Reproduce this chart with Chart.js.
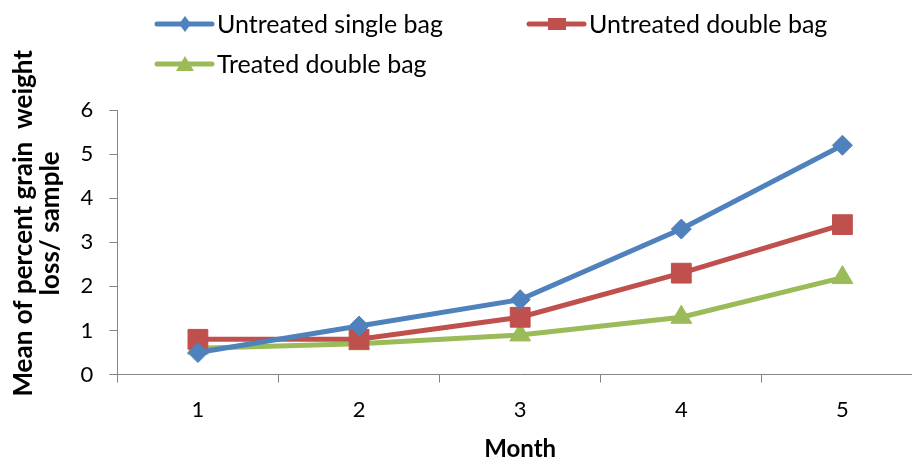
<!DOCTYPE html>
<html>
<head>
<meta charset="utf-8">
<script src="https://cdn.jsdelivr.net/npm/chart.js@4.4.0/dist/chart.umd.min.js"></script>
<style>
  html, body { margin: 0; padding: 0; background: #fff; overflow: hidden; }
  #wrap { width: 938px; height: 461px; }
</style>
</head>
<body>
<div id="wrap"><canvas id="lossChart" width="938" height="461"></canvas></div>
<script>
    // Data
    const months = ['1', '2', '3', '4', '5'];
    const untreatedSingle = [0.5, 1.1, 1.7, 3.3, 5.2];
    const untreatedDouble = [0.8, 0.8, 1.3, 2.3, 3.4];
    const treatedDouble = [0.6, 0.7, 0.9, 1.3, 2.2];
    const yTicks = [0, 1, 2, 3, 4, 5, 6];

    const axisColor = '#868686';
    const fontFamily = 'Lato, "Open Sans", sans-serif';

    // Legend drawn by hand so it can sit in two rows like the original
    const legendSpots = [
    { x: 157, y: 24 },
    { x: 529, y: 24 },
    { x: 157, y: 64 }
];

    const sideLegend = {
    id: 'sideLegend',
    afterDraw(chart) {
    const ctx = chart.ctx;
    chart.data.datasets.forEach((ds, i) => {
    const spot = legendSpots[i];
    ctx.save();
    ctx.strokeStyle = ds.borderColor;
    ctx.lineWidth = 5;
    ctx.lineCap = 'round';
    ctx.beginPath();
    ctx.moveTo(spot.x, spot.y);
    ctx.lineTo(spot.x + 55, spot.y);
    ctx.stroke();
    ctx.fillStyle = ds.borderColor;
    const cx = spot.x + 28;
    ctx.beginPath();
    if (ds.pointStyle === 'rectRot') {
    ctx.moveTo(cx, spot.y - 8);
    ctx.lineTo(cx + 6, spot.y);
    ctx.lineTo(cx, spot.y + 8);
    ctx.lineTo(cx - 6, spot.y);
} else if (ds.pointStyle === 'rect') {
    ctx.rect(cx - 9, spot.y - 6, 18, 12);
} else {
    ctx.moveTo(cx, spot.y - 8);
    ctx.lineTo(cx + 9, spot.y + 7);
    ctx.lineTo(cx - 9, spot.y + 7);
}
    ctx.closePath();
    ctx.fill();
    ctx.fillStyle = '#000';
    ctx.font = '25px ' + fontFamily;
    ctx.textBaseline = 'middle';
    ctx.fillText(ds.label, spot.x + 60, spot.y + 1);
    ctx.restore();
});
}
};

    const ctx = document.getElementById('lossChart').getContext('2d');

    new Chart(ctx, {
    type: 'line',
    data: {
    labels: months,
    datasets: [{
    label: 'Untreated single bag',
    data: untreatedSingle,
    borderColor: '#4F81BD',
    backgroundColor: '#4F81BD',
    borderWidth: 5,
    pointStyle: 'rectRot',
    pointRadius: 10,
    pointBorderWidth: 1
}, {
    label: 'Untreated double bag',
    data: untreatedDouble,
    borderColor: '#C0504D',
    backgroundColor: '#C0504D',
    borderWidth: 5,
    pointStyle: 'rect',
    pointRadius: 14,
    pointBorderWidth: 1
}, {
    label: 'Treated double bag',
    data: treatedDouble,
    borderColor: '#9BBB59',
    backgroundColor: '#9BBB59',
    borderWidth: 5,
    pointStyle: 'triangle',
    pointRadius: 12,
    pointBorderWidth: 1
}]
},
    options: {
    responsive: false,
    animation: false,
    layout: {
    padding: { top: 110, right: 1, bottom: 0, left: 10 }
},
    plugins: {
    legend: { display: false },
    tooltip: { enabled: false }
},
    scales: {
    x: {
    offset: true,
    grid: {
    display: true,
    drawOnChartArea: false,
    drawTicks: true,
    tickLength: 8,
    offset: true,
    color: axisColor
},
    border: { color: axisColor, width: 1 },
    ticks: {
    color: '#000',
    padding: 14,
    font: { family: fontFamily, size: 22 }
},
    title: {
    display: true,
    text: 'Month',
    color: '#000',
    padding: 0,
    font: { family: fontFamily, size: 24, weight: 'bold', lineHeight: 1 }
}
},
    y: {
    min: 0,
    max: 6,
    afterBuildTicks: (axis) => {
    axis.ticks = yTicks.map(v => ({ value: v }));
},
    grid: {
    display: true,
    drawOnChartArea: false,
    drawTicks: true,
    tickLength: 8,
    color: axisColor
},
    border: { color: axisColor, width: 1 },
    ticks: {
    color: '#000',
    padding: 16,
    font: { family: fontFamily, size: 22 }
},
    title: {
    display: true,
    // leading spaces nudge the rotated title upward like the original
    text: ['      Mean of percent grain  weight', '      loss/ sample'],
    color: '#000',
    padding: 0,
    font: { family: fontFamily, size: 26, weight: 'bold', lineHeight: 1.05 }
}
}
}
},
    plugins: [sideLegend]
});
</script>
</body>
</html>
